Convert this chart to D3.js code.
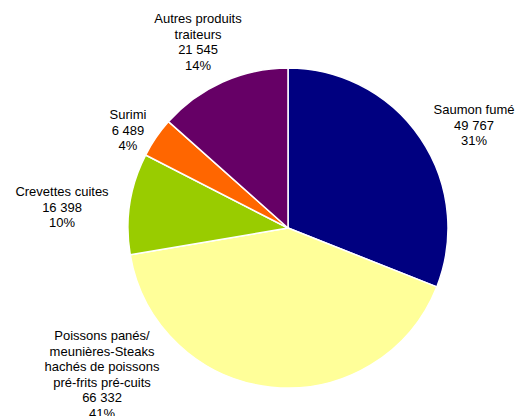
<!DOCTYPE html>
<html>
<head>
<meta charset="utf-8">
<script src="https://cdn.jsdelivr.net/npm/d3@7"></script>
<style>
  html, body { margin: 0; padding: 0; background: #fff; }
  svg { display: block; }
  text { font-family: "Liberation Sans", Arial, sans-serif; font-size: 13px; fill: #000; }
</style>
</head>
<body>
<svg id="chart" width="520" height="416"></svg>
<script>
// Slice names (each entry = label lines), in clockwise order from 12 o'clock
const categories = [
  ["Saumon fumé"],
  ["Poissons panés/", "meunières-Steaks", "hachés de poissons", "pré-frits pré-cuits"],
  ["Crevettes cuites"],
  ["Surimi"],
  ["Autres produits", "traiteurs"]
];
// Volumes
const values = [49767, 66332, 16398, 6489, 21545];
// Shares as printed on the labels
const shares = ["31%", "41%", "10%", "4%", "14%"];
const colors = ["#000080", "#FFFF99", "#99CC00", "#FF6600", "#660066"];
// Label anchor (first baseline) relative to the pie centre
const labelOffsets = [[186, -114], [-186, 112], [-226, -32], [-160, -109], [-90, -205]];

const width = 520, height = 416;
const cx = 288, cy = 228, radius = 160;
const lineHeight = 15.5;

const fmt = d3.formatLocale({ decimal: ",", thousands: " ", grouping: [3], currency: ["", " €"] }).format(",d");

const svg = d3.select("#chart");
const g = svg.append("g").attr("transform", `translate(${cx},${cy})`);

const pie = d3.pie().sort(null).value(d => d).startAngle(0).endAngle(2 * Math.PI);
const arc = d3.arc().innerRadius(0).outerRadius(radius);
const arcs = pie(values);

g.selectAll("path.slice")
  .data(arcs)
  .join("path")
  .attr("class", "slice")
  .attr("d", arc)
  .attr("fill", (d, i) => colors[i])
  .attr("stroke", "#fff")
  .attr("stroke-width", 1.5)
  .attr("stroke-linejoin", "round");

const labels = g.selectAll("text.label")
  .data(arcs)
  .join("text")
  .attr("class", "label")
  .attr("text-anchor", "middle")
  .attr("x", (d, i) => labelOffsets[i][0])
  .attr("y", (d, i) => labelOffsets[i][1]);

labels.each(function (d, i) {
  const lines = categories[i].concat([fmt(values[i]), shares[i]]);
  d3.select(this).selectAll("tspan")
    .data(lines)
    .join("tspan")
    .attr("x", labelOffsets[i][0])
    .attr("dy", (l, j) => j === 0 ? 0 : lineHeight)
    .text(l => l);
});
</script>
</body>
</html>
